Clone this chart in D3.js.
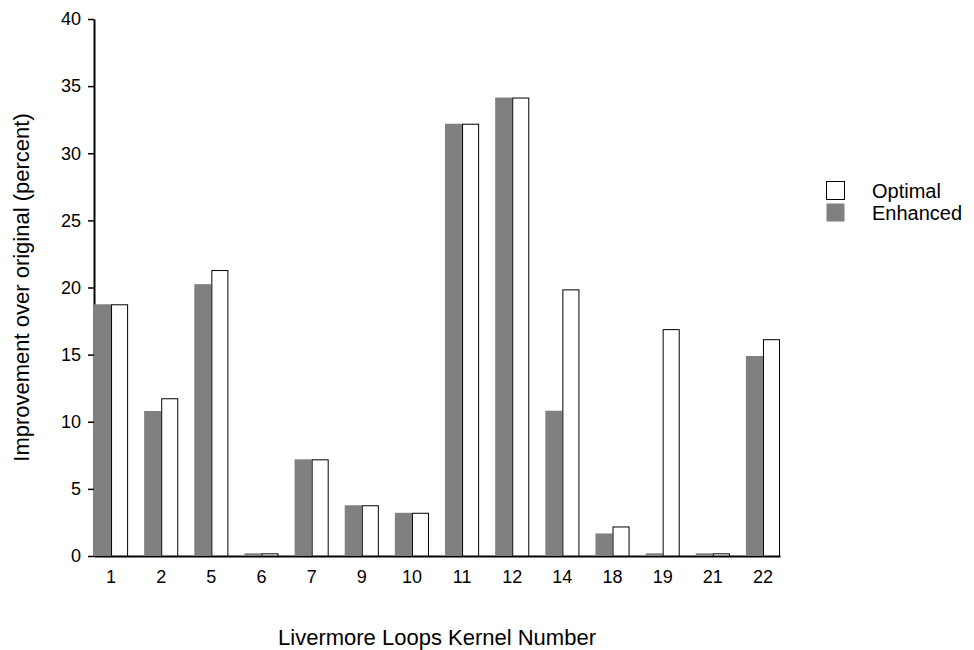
<!DOCTYPE html>
<html>
<head>
<meta charset="utf-8">
<script src="https://cdn.jsdelivr.net/npm/d3@7"></script>
<style>
    body { margin: 0; background: #fff; }
    svg { display: block; font-family: "Liberation Sans", Arial, sans-serif; }
</style>
</head>
<body>
<svg id="chart" width="974" height="650"></svg>
<script>
var kernels = ['1', '2', '5', '6', '7', '9', '10', '11', '12', '14', '18', '19', '21', '22']
var enhanced = [18.75, 10.8, 20.25, 0.2, 7.2, 3.78, 3.22, 32.2, 34.15, 10.82, 1.68, 0.2, 0.2, 14.9]
var optimal = [18.75, 11.75, 21.3, 0.2, 7.2, 3.78, 3.22, 32.2, 34.15, 19.86, 2.2, 16.9, 0.2, 16.15]
var yTicks = [0, 5, 10, 15, 20, 25, 30, 35, 40]
var series = ['Enhanced', 'Optimal']

// plot box (note: "top" is taken by window.top, so use other names)
var plotLeft = 94, plotRight = 780, plotTop = 19, plotBottom = 556

var svg = d3.select('#chart')

var x = d3.scaleBand()
    .domain(kernels)
    .range([plotLeft, plotRight])
    .paddingInner(0.32)
    .paddingOuter(0)

var xs = d3.scaleBand()
    .domain(series)
    .range([0, x.bandwidth()])

var y = d3.scaleLinear()
    .domain([0, 40])
    .range([plotBottom, plotTop])

// axes go under the bars
var yAxis = svg.append('g')
    .attr('transform', 'translate(' + plotLeft + ',0)')
    .call(d3.axisLeft(y).tickValues(yTicks).tickSize(6).tickPadding(7).tickSizeOuter(0))
yAxis.select('.domain').attr('stroke', '#000').attr('stroke-width', 2)
yAxis.selectAll('.tick line').attr('stroke', '#000').attr('stroke-width', 1.5)
yAxis.selectAll('.tick text').attr('font-size', 18).attr('fill', '#000')
    .attr('font-family', '"Liberation Sans", Arial, sans-serif')

var xAxis = svg.append('g')
    .attr('transform', 'translate(0,' + plotBottom + ')')
    .call(d3.axisBottom(x).tickSize(0).tickPadding(14).tickSizeOuter(0))
xAxis.select('.domain').attr('stroke', '#000').attr('stroke-width', 2)
xAxis.selectAll('.tick text').attr('font-size', 18).attr('fill', '#000')
    .attr('font-family', '"Liberation Sans", Arial, sans-serif')

var rows = kernels.map(function(k, i) {
    return { kernel: k, Enhanced: enhanced[i], Optimal: optimal[i] }
})

var groups = svg.append('g')
    .selectAll('g')
    .data(rows)
    .enter()
    .append('g')
    .attr('transform', function(d) { return 'translate(' + x(d.kernel) + ',0)' })

groups.append('rect')
    .attr('x', xs('Enhanced'))
    .attr('y', function(d) { return y(d.Enhanced) })
    .attr('width', xs.bandwidth())
    .attr('height', function(d) { return plotBottom - y(d.Enhanced) })
    .attr('fill', '#808080')

groups.append('rect')
    .attr('x', function() { return xs('Optimal') + 0.5 })
    .attr('y', function(d) { return y(d.Optimal) + 0.5 })
    .attr('width', xs.bandwidth() - 1)
    .attr('height', function(d) { return plotBottom - y(d.Optimal) - 0.5 })
    .attr('fill', '#fff')
    .attr('stroke', '#000')
    .attr('stroke-width', 1)

// titles
svg.append('text')
    .attr('x', (plotLeft + plotRight) / 2)
    .attr('y', 645)
    .attr('text-anchor', 'middle')
    .attr('font-size', 22)
    .text('Livermore Loops Kernel Number')

svg.append('text')
    .attr('transform', 'translate(29,' + ((plotTop + plotBottom) / 2) + ') rotate(-90)')
    .attr('text-anchor', 'middle')
    .attr('font-size', 22)
    .text('Improvement over original (percent)')

// legend
var legendItems = [
    { name: 'Optimal', fill: '#fff', stroke: '#000' },
    { name: 'Enhanced', fill: '#808080', stroke: 'none' }
]
var legend = svg.append('g')
    .selectAll('g')
    .data(legendItems)
    .enter()
    .append('g')
    .attr('transform', function(d, i) { return 'translate(826,' + (181 + i * 22) + ')' })

legend.append('rect')
    .attr('x', 0.5)
    .attr('y', 0.5)
    .attr('width', 18)
    .attr('height', 18)
    .attr('fill', function(d) { return d.fill })
    .attr('stroke', function(d) { return d.stroke })

legend.append('text')
    .attr('x', 46)
    .attr('y', 17)
    .attr('font-size', 20)
    .text(function(d) { return d.name })
</script>
</body>
</html>
